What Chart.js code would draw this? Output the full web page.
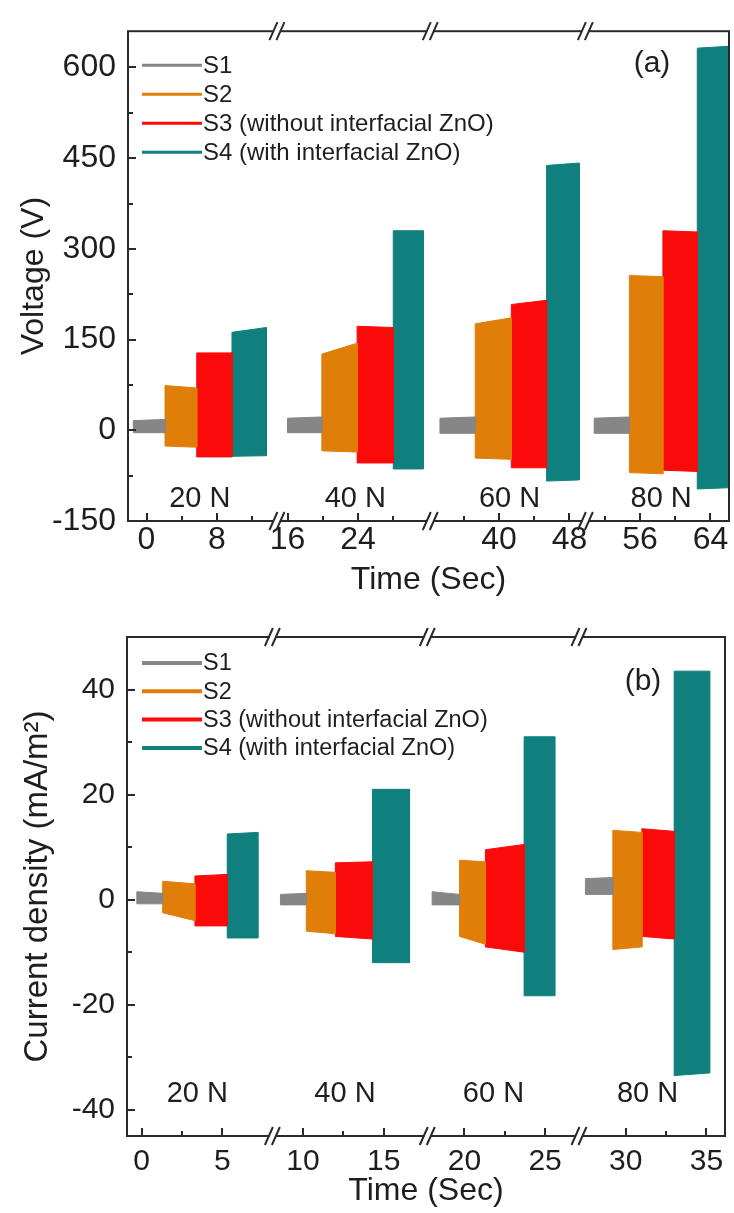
<!DOCTYPE html>
<html>
<head>
<meta charset="utf-8">
<title>Voltage and current density vs time</title>
<script src="https://cdn.jsdelivr.net/npm/chart.js@4.4.1/dist/chart.umd.min.js"></script>
<style>
  body { margin: 0; background: #fff; }
  canvas { display: block; }
</style>
</head>
<body>
<canvas id="chartA" width="734" height="606"></canvas>
<canvas id="chartB" width="734" height="607"></canvas>
<script>
const seriesNames = ["S1", "S2", "S3 (without interfacial ZnO)", "S4 (with interfacial ZnO)"];
const seriesColors = ["#868686", "#e07e0a", "#fb0a0a", "#0f807e"];
const forceLabels = ["20 N", "40 N", "60 N", "80 N"];

// (a) voltage - per series, one [start, end] entry per force level
const voltTime = [
  [[-1.5, 2.1], [16.0, 19.9], [33.3, 37.3], [50.8, 54.8]],
  [[2.1, 5.7], [19.9, 23.9], [37.3, 41.4], [54.8, 58.6]],
  [[5.7, 9.7], [23.9, 28.0], [41.4, 45.4], [58.6, 62.5]],
  [[9.7, 13.6], [28.0, 31.4], [45.4, 49.1], [62.5, 66.0]]
];
const voltTop = [
  [[16, 18], [20, 22], [20, 22], [20, 22]],
  [[74, 70], [126, 144], [176, 186], [256, 254]],
  [[128, 128], [172, 170], [208, 215], [330, 328]],
  [[162, 170], [330, 330], [438, 442], [632, 635]]
];
const voltBottom = [
  [[-4, -4], [-4, -4], [-5, -5], [-5, -5]],
  [[-26, -28], [-34, -36], [-46, -48], [-70, -72]],
  [[-44, -44], [-54, -54], [-62, -62], [-66, -68]],
  [[-43, -42], [-64, -64], [-84, -82], [-97, -95]]
];
const voltXTicks = [0, 8, 16, 24, 40, 48, 56, 64];
const voltXMinor = [4, 12, 20, 28, 36, 44, 52, 60];
const voltYTicks = [-150, 0, 150, 300, 450, 600];
const voltYMinor = [-75, 75, 225, 375, 525];
const voltBreaks = [14.8, 32.2, 49.8];

// (b) current density
const curTime = [
  [[-0.3, 1.3], [8.6, 10.2], [18.0, 19.7], [27.5, 29.2]],
  [[1.3, 3.3], [10.2, 12.0], [19.7, 21.3], [29.2, 31.0]],
  [[3.3, 5.3], [12.0, 14.3], [21.3, 23.7], [31.0, 33.0]],
  [[5.3, 7.2], [14.3, 16.6], [23.7, 25.6], [33.0, 35.2]]
];
const curTop = [
  [[1.5, 1.2], [1.0, 1.2], [1.5, 1.0], [4.0, 4.2]],
  [[3.5, 3.0], [5.5, 5.2], [7.5, 7.2], [13.2, 12.8]],
  [[4.5, 4.8], [7.0, 7.2], [9.5, 10.5], [13.5, 13.0]],
  [[12.5, 12.8], [21.0, 21.0], [31.0, 31.0], [43.5, 43.5]]
];
const curBottom = [
  [[-0.8, -0.8], [-1.0, -1.0], [-1.0, -1.0], [1.0, 1.0]],
  [[-2.5, -4.0], [-6.0, -6.5], [-7.0, -8.5], [-9.5, -9.0]],
  [[-5.0, -5.0], [-7.0, -7.5], [-9.0, -10.0], [-7.0, -7.5]],
  [[-7.3, -7.3], [-12.0, -12.0], [-18.3, -18.3], [-33.5, -33.0]]
];
const curXTicks = [0, 5, 10, 15, 20, 25, 30, 35];
const curXMinor = [2.5, 12.5, 22.5, 32.5];
const curYTicks = [-40, -20, 0, 20, 40];
const curYMinor = [-30, -10, 10, 30];
const curBreaks = [8.1, 17.7, 27.1];

const family = "'Liberation Sans', Arial, sans-serif";
const ink = "#1e1e1e";

function buildDatasets(times, tops, bottoms) {
  const sets = [];
  seriesNames.forEach((name, s) => {
    times[s].forEach((span, g) => {
      const [t0, t1] = span;
      const [top0, top1] = tops[s][g];
      const [bot0, bot1] = bottoms[s][g];
      sets.push({
        label: name,
        data: [
          { x: t0, y: top0 }, { x: t1, y: top1 },
          { x: t1, y: bot1 }, { x: t0, y: bot0 }, { x: t0, y: top0 }
        ],
        borderColor: seriesColors[s],
        backgroundColor: seriesColors[s],
        borderWidth: 1,
        pointRadius: 0,
        tension: 0,
        fill: "shape"
      });
    });
  });
  return sets;
}

// frame, inward ticks, axis breaks, legend and labels
function makeDecor(cfg) {
  return {
    id: "decor",
    afterDraw(chart) {
      const { ctx, chartArea: a, scales: { x, y } } = chart;
      ctx.save();

      ctx.strokeStyle = "#2a2a2a";
      ctx.lineWidth = 2;
      ctx.strokeRect(a.left, a.top, a.right - a.left, a.bottom - a.top);

      ctx.beginPath();
      cfg.xTicks.concat(cfg.xMinor).forEach((v) => {
        const len = cfg.xTicks.includes(v) ? 8 : 5;
        const px = Math.round(x.getPixelForValue(v));
        ctx.moveTo(px, a.bottom);
        ctx.lineTo(px, a.bottom - len);
      });
      cfg.yTicks.concat(cfg.yMinor).forEach((v) => {
        const len = cfg.yTicks.includes(v) ? 8 : 5;
        const py = Math.round(y.getPixelForValue(v));
        ctx.moveTo(a.left, py);
        ctx.lineTo(a.left + len, py);
      });
      ctx.stroke();

      // axis breaks on top and bottom
      cfg.breaks.forEach((b) => {
        const px = x.getPixelForValue(b);
        [a.top, a.bottom].forEach((yy) => {
          ctx.fillStyle = "#fff";
          ctx.fillRect(px - 3, yy - 2, 6, 4);
          ctx.lineWidth = 2;
          ctx.beginPath();
          [-3.5, 3.5].forEach((off) => {
            ctx.moveTo(px + off - 4, yy + 9);
            ctx.lineTo(px + off + 4, yy - 9);
          });
          ctx.stroke();
        });
      });

      // legend
      ctx.textAlign = "left";
      ctx.textBaseline = "middle";
      ctx.font = cfg.legendSize + "px " + family;
      seriesNames.forEach((name, s) => {
        const ly = a.top + cfg.legendTop + s * cfg.legendGap;
        ctx.strokeStyle = seriesColors[s];
        ctx.lineWidth = cfg.legendLine;
        ctx.beginPath();
        ctx.moveTo(a.left + cfg.legendX, ly);
        ctx.lineTo(a.left + cfg.legendX + 60, ly);
        ctx.stroke();
        ctx.fillStyle = ink;
        ctx.fillText(name, a.left + cfg.legendX + 61, ly + 1);
      });

      // force labels centred under each group
      ctx.textAlign = "center";
      ctx.font = cfg.groupSize + "px " + family;
      forceLabels.forEach((lab, g) => {
        const mid = (cfg.times[0][g][0] + cfg.times[3][g][1]) / 2;
        ctx.fillText(lab, x.getPixelForValue(mid), y.getPixelForValue(cfg.groupY));
      });

      ctx.font = "30px " + family;
      ctx.fillText(cfg.tag, a.right - cfg.tagDx, a.top + cfg.tagDy);
      ctx.restore();
    }
  };
}

function makeChart(id, cfg) {
  const tickFont = { family: family, size: cfg.tickSize };
  const titleFont = { family: family, size: cfg.titleSize };
  return new Chart(document.getElementById(id), {
    type: "line",
    data: { datasets: buildDatasets(cfg.times, cfg.tops, cfg.bottoms) },
    options: {
      responsive: false,
      animation: false,
      events: [],
      layout: { padding: cfg.padding },
      plugins: { legend: { display: false }, tooltip: { enabled: false } },
      scales: {
        x: {
          type: "linear",
          min: cfg.xMin,
          max: cfg.xMax,
          afterBuildTicks: (s) => { s.ticks = cfg.xTicks.map((v) => ({ value: v })); },
          afterFit: (s) => { s.height = cfg.xHeight; },
          grid: { display: false, drawTicks: false },
          border: { display: false },
          ticks: { autoSkip: false, maxRotation: 0, padding: cfg.xTickPad, color: ink, font: tickFont },
          title: {
            display: true, text: "Time (Sec)", color: ink, font: titleFont,
            padding: { top: 0, bottom: cfg.xTitlePad }
          }
        },
        y: {
          type: "linear",
          min: cfg.yMin,
          max: cfg.yMax,
          afterBuildTicks: (s) => { s.ticks = cfg.yTicks.map((v) => ({ value: v })); },
          afterFit: (s) => { s.width = cfg.yWidth; },
          grid: { display: false, drawTicks: false },
          border: { display: false },
          ticks: { padding: 12, color: ink, font: tickFont },
          title: {
            display: true, text: cfg.yTitle, color: ink, font: { family: family, size: cfg.yTitleSize },
            padding: { top: cfg.yTitlePad, bottom: 0 }
          }
        }
      }
    },
    plugins: [makeDecor(cfg)]
  });
}

makeChart("chartA", {
  times: voltTime, tops: voltTop, bottoms: voltBottom,
  xTicks: voltXTicks, xMinor: voltXMinor, yTicks: voltYTicks, yMinor: voltYMinor,
  breaks: voltBreaks,
  xMin: -2.1, xMax: 66.1, yMin: -150, yMax: 660,
  padding: { top: 27, right: 5, left: 0, bottom: 0 },
  xHeight: 85, yWidth: 128,
  tickSize: 32, titleSize: 32, yTitleSize: 32, xTickPad: 0, xTitlePad: 7, yTitlePad: 15,
  yTitle: "Voltage (V)",
  legendSize: 24, legendTop: 34, legendGap: 29, legendX: 14, legendLine: 3,
  groupSize: 29, groupY: -113,
  tag: "(a)", tagDx: 77, tagDy: 33
});

makeChart("chartB", {
  times: curTime, tops: curTop, bottoms: curBottom,
  xTicks: curXTicks, xMinor: curXMinor, yTicks: curYTicks, yMinor: curYMinor,
  breaks: curBreaks,
  xMin: -0.91, xMax: 36.15, yMin: -45, yMax: 50,
  padding: { top: 31, right: 9, left: 0, bottom: 0 },
  xHeight: 77, yWidth: 127,
  tickSize: 30, titleSize: 32, yTitleSize: 33, xTickPad: 8, xTitlePad: 3, yTitlePad: 18,
  yTitle: "Current density (mA/m²)",
  legendSize: 23.5, legendTop: 26, legendGap: 28.3, legendX: 15, legendLine: 4,
  groupSize: 29, groupY: -37,
  tag: "(b)", tagDx: 82, tagDy: 45
});
</script>
</body>
</html>
